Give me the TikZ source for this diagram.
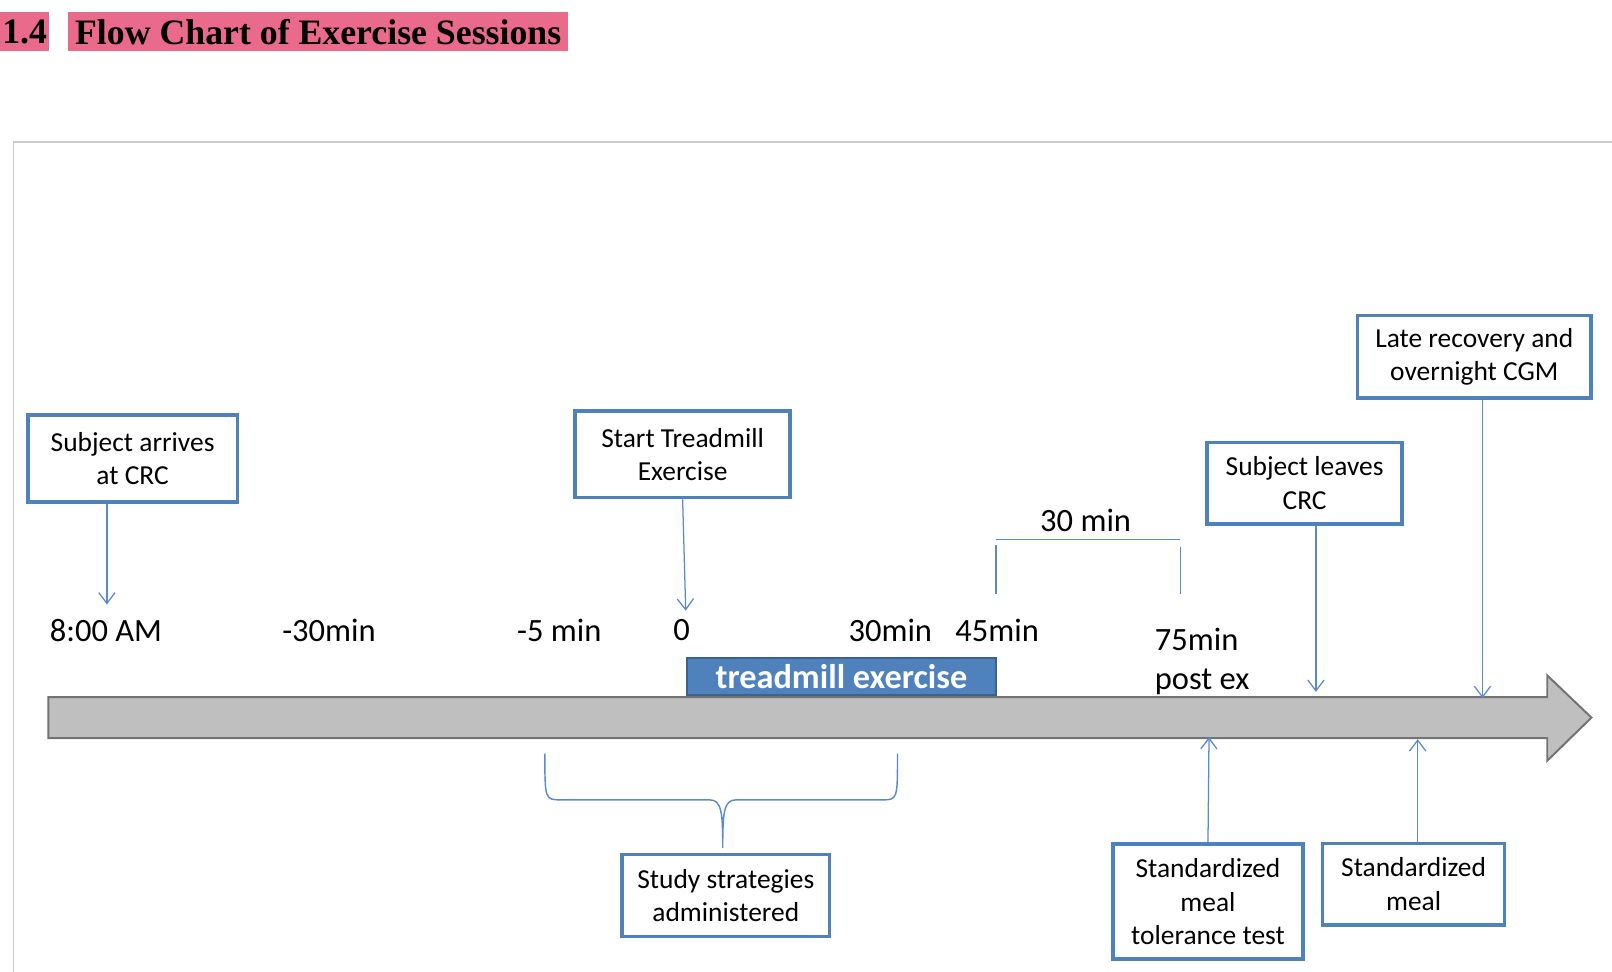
\documentclass[tikz,border=0pt]{standalone}
\usepackage{fontspec}
\setmainfont{Carlito}
\newfontfamily\headfont{Liberation Serif}
\usepackage{tikz}
\usetikzlibrary{arrows.meta}
\usetikzlibrary{positioning}
\definecolor{boxblue}{HTML}{4F81BD}
\definecolor{linkblue}{HTML}{5A8ACB}
\definecolor{headpink}{HTML}{EA6A8C}
\definecolor{bargray}{HTML}{BFBFBF}
\tikzset{
	% boxes for the events, and the labels along the time bar
	event box/.style={draw=boxblue,line width=2pt,fill=white,align=center,inner sep=2pt,font=\fontsize{15.2}{18.5}\selectfont},
	time label/.style={inner sep=0pt,font=\fontsize{18}{21.6}\selectfont},
	heading/.style={fill=headpink,inner sep=0pt,minimum height=0.76cm,font=\headfont\bfseries\fontsize{19.8}{24}\selectfont},
	link/.style={draw=linkblue,line width=0.7pt,-{Straight Barb[length=6pt,width=9pt]}},
	span line/.style={draw=linkblue,line width=0.8pt}
}

\begin{document}
\begin{tikzpicture}[x=0.02cm,y=-0.02cm]
	% macro for the time marks along the bar
	\newcommand{\timemark}[3]{\node(#1)[time label]at(#2){#3};}
	\useasboundingbox (0,0) rectangle (1568,945);
	
	% heading
	\node(sec-num)[heading,minimum width=0.96cm]at(24,31){1.4};
	\node(sec-title)[heading,minimum width=9.74cm]at(309.5,31){Flow Chart of Exercise Sessions};
	
	% frame
	\draw[black!20,line width=0.8pt](1568,138)--(13,138)--(13,945);
	
	% time bar
	\draw[fill=bargray,draw=black!55,line width=1.1pt](47,678)--(1505,678)--(1505,657)--(1548,698)--(1505,740)--(1505,718)--(47,718)--cycle;
	\node(tread)[fill=boxblue,draw=boxblue!75!black,line width=1.1pt,minimum width=6.02cm,minimum height=0.72cm,inner sep=0pt,text=white,font=\bfseries\fontsize{19}{22}\selectfont]at(818.5,658){treadmill exercise};
	
	\timemark{t0}{103,613}{8:00 AM}
	\timemark{t1}{320,613}{-30min}
	\timemark{t2}{544,613}{-5 min}
	\timemark{t3}{663,613}{0}
	\timemark{t4}{866,613}{30min}
	\timemark{t5}{970,613}{45min}
	\node(t6)[time label,anchor=west,align=left]at(1123,643){75min\\post ex};
	
	% the 30 min span
	\node(span)[time label]at(1056,506){30 min};
	\draw[span line](969,525)--(1148,525);
	\draw[span line](969,530)--(969,578);
	\draw[span line](1148,532)--(1148,578);
	
	% events above the bar
	\node(arrive)[event box,minimum width=4.08cm,minimum height=1.7cm]at(129,446){Subject arrives\\at CRC};
	\node(start)[event box,minimum width=4.18cm,minimum height=1.68cm]at(664,442){Start Treadmill\\Exercise};
	\node(leave)[event box,minimum width=3.8cm,minimum height=1.58cm]at(1269,470){Subject leaves\\CRC};
	\node(late)[event box,minimum width=4.54cm,minimum height=1.6cm]at(1434,347){Late recovery and\\overnight CGM};
	
	% events below the bar
	\node(strat)[event box,minimum width=4.04cm,minimum height=1.6cm]at(706,871){Study strategies\\administered};
	\node(mtt)[event box,minimum width=3.7cm,minimum height=2.24cm]at(1175,877){Standardized\\meal\\tolerance test};
	\node(meal)[event box,minimum width=3.54cm,minimum height=1.58cm]at(1375,860){Standardized\\meal};
	
	% arrows to the bar
	\coordinate(p-arrive)at(104,588);
	\coordinate(p-start)at(667,594);
	\coordinate(p-leave)at(1280,673);
	\coordinate(p-late)at(1442,679);
	\coordinate(p-mtt)at(1176,717);
	\coordinate(p-meal)at(1379,719);
	\draw[link](arrive.south-|p-arrive)--(p-arrive);
	\draw[link](start.south)--(p-start);
	\draw[link](leave.south-|p-leave)--(p-leave);
	\draw[link](late.south-|p-late)--(p-late);
	\draw[link](mtt.north)--(p-mtt);
	\draw[link](meal.north-|p-meal)--(p-meal);
	
	% brace over the strategies
	\draw[span line](530,733)..controls(530,778)and(530,778)..(546,778)--(690,778)..controls(702,778)and(703,790)..(703,825)
		..controls(703,790)and(704,778)..(716,778)--(858,778)..controls(873,778)and(873,778)..(873,733);
\end{tikzpicture}
\end{document}
